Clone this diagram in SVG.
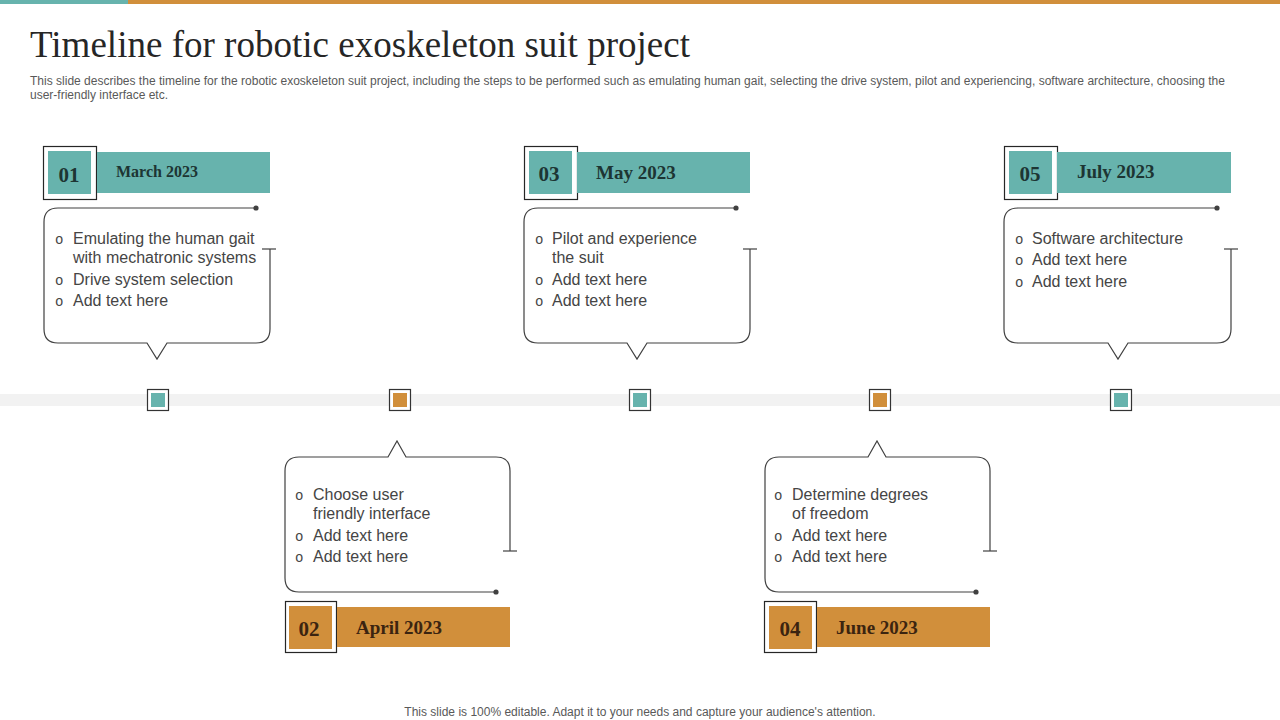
<svg xmlns="http://www.w3.org/2000/svg" width="1280" height="720" viewBox="0 0 1280 720">
<defs>
<style>
.title{font-family:"Liberation Serif",serif;font-size:37px;fill:#262626}
.sub{font-family:"Liberation Sans",Arial,sans-serif;font-size:12px;fill:#595959}
.foot{font-family:"Liberation Sans",Arial,sans-serif;font-size:12px;fill:#595959}
.txt{font-family:"Liberation Sans",Arial,sans-serif;font-size:16px;fill:#454545}
.bul{font-family:"Liberation Mono","Courier New",monospace;font-size:14px;fill:#454545}
.num{font-family:"Liberation Serif",serif;font-size:21px;font-weight:bold;text-anchor:middle}
.date{font-family:"Liberation Serif",serif;font-size:19px;font-weight:bold}
.tealt{fill:#1d3533}
.orgt{fill:#3b2410}
.callout{fill:none;stroke:#404040;stroke-width:1.2}
.tick{stroke:#404040;stroke-width:1.2}
.outer{fill:#fff;stroke:#262626;stroke-width:1.2}
.teal{fill:#67b3ad}
.orange{fill:#d18f3b}
.mk{fill:#fff;stroke:#333;stroke-width:1.2}
</style>
</defs>
<rect x="0" y="0" width="128" height="4" class="teal"/>
<rect x="128" y="0" width="1152" height="4" class="orange"/>
<text x="30" y="57" class="title" textLength="660" lengthAdjust="spacing">Timeline for robotic exoskeleton suit project</text>
<text x="30" y="85" class="sub" textLength="1195" lengthAdjust="spacingAndGlyphs">This slide describes the timeline for the robotic exoskeleton suit project, including the steps to be performed such as emulating human gait, selecting the drive system, pilot and experiencing, software architecture, choosing the</text>
<text x="30" y="99" class="sub" textLength="138" lengthAdjust="spacingAndGlyphs">user-friendly interface etc.</text>

<g id="connectors">
<rect x="0" y="394" width="1280" height="12" fill="#f2f2f2"/>
</g>

<g id="markers">
<rect x="147.5" y="389.5" width="21" height="21" class="mk"/><rect x="151" y="393" width="14" height="14" class="teal"/>
<rect x="389.5" y="389.5" width="21" height="21" class="mk"/><rect x="393" y="393" width="14" height="14" class="orange"/>
<rect x="629.5" y="389.5" width="21" height="21" class="mk"/><rect x="633" y="393" width="14" height="14" class="teal"/>
<rect x="869.5" y="389.5" width="21" height="21" class="mk"/><rect x="873" y="393" width="14" height="14" class="orange"/>
<rect x="1110.5" y="389.5" width="21" height="21" class="mk"/><rect x="1114" y="393" width="14" height="14" class="teal"/>
</g>

<g id="node1">
<rect x="43.5" y="146.5" width="53" height="53" class="outer"/>
<rect x="48" y="151" width="43" height="43" class="teal"/>
<rect x="97" y="152" width="173" height="41" class="teal"/>
<text x="69" y="182" class="num tealt">01</text>
<text x="116" y="177" class="date tealt" style="font-size:16px">March 2023</text>
<path class="callout" d="M256,208 H58 Q44,208 44,222 V329 Q44,343 58,343 H147 L157,359 L167,343 H256 Q270,343 270,329 V249"/>
<line x1="262" y1="249" x2="276" y2="249" class="tick"/>
<circle cx="256" cy="208" r="2.6" fill="#404040"/>
<text class="bul" x="55" y="244">o</text><text class="txt" x="73" y="244">Emulating the human gait</text>
<text class="txt" x="73" y="263">with mechatronic systems</text>
<text class="bul" x="55" y="285">o</text><text class="txt" x="73" y="285">Drive system selection</text>
<text class="bul" x="55" y="306">o</text><text class="txt" x="73" y="306">Add text here</text>
</g>

<g id="node3">
<rect x="524.5" y="146.5" width="53" height="53" class="outer"/>
<rect x="529" y="151" width="43" height="43" class="teal"/>
<rect x="577" y="152" width="173" height="41" class="teal"/>
<text x="549" y="181" class="num tealt">03</text>
<text x="596" y="179" class="date tealt">May 2023</text>
<path class="callout" d="M736,208 H538 Q524,208 524,222 V329 Q524,343 538,343 H627 L637,359 L647,343 H736 Q750,343 750,329 V249"/>
<line x1="743" y1="249" x2="757" y2="249" class="tick"/>
<circle cx="736" cy="208" r="2.6" fill="#404040"/>
<text class="bul" x="535" y="244">o</text><text class="txt" x="552" y="244">Pilot and experience</text>
<text class="txt" x="552" y="263">the suit</text>
<text class="bul" x="535" y="285">o</text><text class="txt" x="552" y="285">Add text here</text>
<text class="bul" x="535" y="306">o</text><text class="txt" x="552" y="306">Add text here</text>
</g>

<g id="node5">
<rect x="1004.5" y="146.5" width="53" height="53" class="outer"/>
<rect x="1009" y="151" width="43" height="43" class="teal"/>
<rect x="1057" y="152" width="174" height="41" class="teal"/>
<text x="1030" y="181" class="num tealt">05</text>
<text x="1077" y="178" class="date tealt">July 2023</text>
<path class="callout" d="M1217,208 H1018 Q1004,208 1004,222 V329 Q1004,343 1018,343 H1108 L1118,359 L1128,343 H1217 Q1231,343 1231,329 V249"/>
<line x1="1224" y1="249" x2="1238" y2="249" class="tick"/>
<circle cx="1217" cy="208" r="2.6" fill="#404040"/>
<text class="bul" x="1015" y="244">o</text><text class="txt" x="1032" y="244">Software architecture</text>
<text class="bul" x="1015" y="265">o</text><text class="txt" x="1032" y="265">Add text here</text>
<text class="bul" x="1015" y="287">o</text><text class="txt" x="1032" y="287">Add text here</text>
</g>

<g id="node2">
<path class="callout" d="M496,592 H299 Q285,592 285,578 V471 Q285,457 299,457 H388 L397,441 L406,457 H496 Q510,457 510,471 V551"/>
<line x1="503" y1="551" x2="517" y2="551" class="tick"/>
<circle cx="496" cy="592" r="2.6" fill="#404040"/>
<text class="bul" x="295" y="500">o</text><text class="txt" x="313" y="500">Choose user</text>
<text class="txt" x="313" y="519">friendly  interface</text>
<text class="bul" x="295" y="541">o</text><text class="txt" x="313" y="541">Add text here</text>
<text class="bul" x="295" y="562">o</text><text class="txt" x="313" y="562">Add text here</text>
<rect x="285.5" y="601.5" width="51" height="51" class="outer"/>
<rect x="289" y="606" width="43" height="43" class="orange"/>
<rect x="337" y="607" width="173" height="40" class="orange"/>
<text x="309" y="636" class="num orgt">02</text>
<text x="356" y="634" class="date orgt">April 2023</text>
</g>

<g id="node4">
<path class="callout" d="M976,592 H779 Q765,592 765,578 V471 Q765,457 779,457 H868 L877,441 L886,457 H976 Q990,457 990,471 V551"/>
<line x1="983" y1="551" x2="997" y2="551" class="tick"/>
<circle cx="976" cy="592" r="2.6" fill="#404040"/>
<text class="bul" x="774" y="500">o</text><text class="txt" x="792" y="500">Determine degrees</text>
<text class="txt" x="792" y="519">of freedom</text>
<text class="bul" x="774" y="541">o</text><text class="txt" x="792" y="541">Add text here</text>
<text class="bul" x="774" y="562">o</text><text class="txt" x="792" y="562">Add text here</text>
<rect x="764.5" y="601.5" width="52" height="51" class="outer"/>
<rect x="769" y="606" width="43" height="43" class="orange"/>
<rect x="817" y="607" width="173" height="40" class="orange"/>
<text x="790" y="636" class="num orgt">04</text>
<text x="836" y="634" class="date orgt">June 2023</text>
</g>

<text x="640" y="716" class="foot" text-anchor="middle">This slide is 100% editable. Adapt it to your needs and capture your audience's attention.</text>
</svg>
